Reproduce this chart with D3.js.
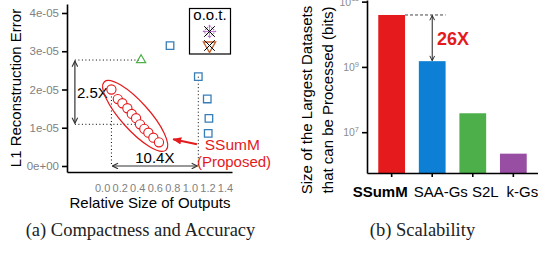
<!DOCTYPE html>
<meta charset="utf-8">
<style>

body {
  margin: 0;
  background: #fff;
}

svg {
  display: block;
  font-family: "Liberation Sans", Arial, sans-serif;
}

.axis path, .axis line {
  stroke: #000;
  stroke-width: 1.6;
}

.axis text {
  fill: #7f7f7f;
}

.caption {
  font-family: "Liberation Serif", serif;
  font-size: 18.5px;
  fill: #222;
  text-anchor: middle;
}

.title {
  font-size: 15px;
  fill: #000;
  text-anchor: middle;
}

</style>
<body>
<script src="https://d3js.org/d3.v7.min.js"></script>
<script>

/*
  Data - (a) compactness vs accuracy, error in units of 1e-05
*/

var ssummSize  = [0.106, 0.179, 0.231, 0.288, 0.338, 0.387, 0.432, 0.481, 0.527, 0.584, 0.648];
var ssummError = [2.00, 1.75, 1.64, 1.51, 1.36, 1.25, 1.09, 0.97, 0.87, 0.74, 0.62];

var s2lSize  = [0.444];
var s2lError = [2.77];

var saaSize  = [0.774, 1.096, 1.198, 1.217, 1.209];
var saaError = [3.145, 2.335, 1.752, 1.247, 0.855];

var errTicks      = [0, 1, 2, 3, 4];
var errTickLabels = ["0e+00", "1e-05", "2e-05", "3e-05", "4e-05"];
var sizeTicks     = [0, 0.2, 0.4, 0.6, 0.8, 1.0, 1.2, 1.4];

/*
  Data - (b) scalability
*/

var methods  = ["SSumM", "SAA-Gs", "S2L", "k-Gs"];
var maxBits  = [3.9e10, 1.5e9, 3.8e7, 2.2e6];
var bitTicks = [1e7, 1e9, 1e11];
var bitExp   = ["7", "9", "11"];

// labels under the bars sit a little off their ticks in the original
var labelShift = [-11.5, 8.5, 12.5, 9];

var red = "#e41a1c",
    barColors = ["#e41a1c", "#0d80d6", "#4daf4a", "#984ea3"];

var width = 538,
    height = 256;

var svg = d3.select("body").append("svg")
    .attr("width", width)
    .attr("height", height);

var defs = svg.append("defs");

function marker(id, color, size) {
  defs.append("marker")
      .attr("id", id)
      .attr("viewBox", "0 0 10 10")
      .attr("refX", 9)
      .attr("refY", 5)
      .attr("markerUnits", "userSpaceOnUse")
      .attr("markerWidth", size)
      .attr("markerHeight", size)
      .attr("orient", "auto-start-reverse")
    .append("path")
      .attr("d", "M1,1 L9,5 L1,9")
      .attr("fill", "none")
      .attr("stroke", color)
      .attr("stroke-width", 1.6);
}
marker("arrBlack", "#333", 7);
marker("arrThin", "#222", 6);

defs.append("marker")
    .attr("id", "arrRed")
    .attr("viewBox", "0 0 10 10")
    .attr("refX", 9)
    .attr("refY", 5)
    .attr("markerUnits", "userSpaceOnUse")
    .attr("markerWidth", 9)
    .attr("markerHeight", 9)
    .attr("orient", "auto")
  .append("path")
    .attr("d", "M0,1 L10,5 L0,9 Z")
    .attr("fill", red);

/*
  (a) scatter
*/

var x = d3.scaleLinear().domain([-0.4, 1.48]).range([67, 232]);
var y = d3.scaleLinear().domain([-0.157, 4.235]).range([172, 4]);

var A = svg.append("g");

A.append("g")
    .attr("class", "axis")
    .attr("transform", "translate(" + x.range()[0] + ",0)")
    .call(d3.axisLeft(y).tickValues(errTicks).tickSize(5).tickSizeOuter(0).tickPadding(3)
      .tickFormat(function(d, i) { return errTickLabels[i]; }))
    .call(function(g) { g.selectAll("text").style("font-size", "11.5px"); });

A.append("g")
    .attr("class", "axis")
    .attr("transform", "translate(0," + y.range()[0] + ")")
    .call(d3.axisBottom(x).tickValues(sizeTicks).tickSize(0).tickSizeOuter(0).tickPadding(12)
      .tickFormat(d3.format(".1f")))
    .call(function(g) { g.selectAll("text").style("font-size", "11px"); });

// axis titles
A.append("text")
    .attr("class", "title")
    .attr("transform", "translate(20.5,88) rotate(-90)")
    .text("L1 Reconstruction Error");

A.append("text")
    .attr("class", "title")
    .attr("x", 150)
    .attr("y", 208)
    .text("Relative Size of Outputs");

// guide lines
var dotted = A.append("g")
    .attr("fill", "none")
    .attr("stroke", "#000")
    .attr("stroke-width", 1)
    .attr("stroke-dasharray", "1,2.5");

var guideX = -0.31;

dotted.append("line")
    .attr("x1", x(guideX)).attr("x2", x(s2lSize[0]))
    .attr("y1", y(s2lError[0])).attr("y2", y(s2lError[0]));
dotted.append("line")
    .attr("x1", x(guideX)).attr("x2", x(ssummSize[6]))
    .attr("y1", y(ssummError[6])).attr("y2", y(ssummError[6]));
dotted.append("line")
    .attr("x1", x(ssummSize[0])).attr("x2", x(ssummSize[0]))
    .attr("y1", y(ssummError[0])).attr("y2", y(0));
dotted.append("line")
    .attr("x1", x(saaSize[1])).attr("x2", x(saaSize[1]))
    .attr("y1", y(saaError[1])).attr("y2", y(0));

// 2.5X arrow
A.append("line")
    .attr("x1", x(guideX)).attr("x2", x(guideX))
    .attr("y1", y(s2lError[0]) + 1).attr("y2", y(ssummError[6]) - 1)
    .attr("stroke", "#333")
    .attr("stroke-width", 1.2)
    .attr("marker-start", "url(#arrBlack)")
    .attr("marker-end", "url(#arrBlack)");

A.append("text")
    .attr("x", x(guideX) + 2)
    .attr("y", y(1.9) + 5)
    .style("font-size", "15px")
    .text("2.5X");

// 10.4X arrow
A.append("line")
    .attr("x1", x(ssummSize[0]) + 1).attr("x2", x(saaSize[1]) - 1)
    .attr("y1", y(0)).attr("y2", y(0))
    .attr("stroke", "#333")
    .attr("stroke-width", 1.2)
    .attr("marker-start", "url(#arrBlack)")
    .attr("marker-end", "url(#arrBlack)");

A.append("text")
    .attr("x", (x(ssummSize[0]) + x(saaSize[1])) / 2)
    .attr("y", y(0) - 3)
    .attr("text-anchor", "middle")
    .style("font-size", "15px")
    .text("10.4X");

// ellipse around SSumM points
var p0 = [x(ssummSize[0]), y(ssummError[0])],
    p1 = [x(ssummSize[ssummSize.length - 1]), y(ssummError[ssummError.length - 1])],
    angle = Math.atan2(p1[1] - p0[1], p1[0] - p0[0]) * 180 / Math.PI,
    half = Math.hypot(p1[0] - p0[0], p1[1] - p0[1]) / 2;

A.append("ellipse")
    .attr("transform", "translate(" + (p0[0] + p1[0]) / 2 + "," + (p0[1] + p1[1]) / 2 + ") rotate(" + angle + ")")
    .attr("rx", half + 10.5)
    .attr("ry", 14)
    .attr("fill", "none")
    .attr("stroke", red)
    .attr("stroke-width", 1.2);

// points
A.selectAll(".ssumm")
    .data(d3.zip(ssummSize, ssummError))
  .enter().append("circle")
    .attr("class", "ssumm")
    .attr("cx", function(d) { return x(d[0]); })
    .attr("cy", function(d) { return y(d[1]); })
    .attr("r", 4.6)
    .attr("fill", "#fff")
    .attr("stroke", red)
    .attr("stroke-width", 1.1);

A.selectAll(".s2l")
    .data(d3.zip(s2lSize, s2lError))
  .enter().append("path")
    .attr("class", "s2l")
    .attr("transform", function(d) { return "translate(" + x(d[0]) + "," + y(d[1]) + ")"; })
    .attr("d", d3.symbol(d3.symbolTriangle2, 60))
    .attr("fill", "none")
    .attr("stroke", "#4daf4a")
    .attr("stroke-width", 1.2);

A.selectAll(".saa")
    .data(d3.zip(saaSize, saaError))
  .enter().append("path")
    .attr("class", "saa")
    .attr("transform", function(d) { return "translate(" + x(d[0]) + "," + y(d[1]) + ")"; })
    .attr("d", d3.symbol(d3.symbolSquare2, 72))
    .attr("fill", "none")
    .attr("stroke", "#377eb8")
    .attr("stroke-width", 1.3);

// SSumM callout
A.append("line")
    .attr("x1", x(1.08)).attr("y1", y(0.57))
    .attr("x2", x(0.81)).attr("y2", y(0.70))
    .attr("stroke", red)
    .attr("stroke-width", 2)
    .attr("marker-end", "url(#arrRed)");

A.append("text")
    .attr("x", x(1.17))
    .attr("y", y(0.42))
    .attr("fill", red)
    .style("font-size", "15.5px")
    .text("SSumM");

A.append("text")
    .attr("x", x(1.08))
    .attr("y", y(-0.02))
    .attr("fill", red)
    .style("font-size", "15px")
    .text("(Proposed)");

// o.o.t. legend
var L = A.append("g").attr("transform", "translate(189.5,8.5)");

L.append("rect")
    .attr("width", 41)
    .attr("height", 45.5)
    .attr("fill", "#fff")
    .attr("stroke", "#000")
    .attr("stroke-width", 1.2);

L.append("text")
    .attr("x", 20.5)
    .attr("y", 11.5)
    .attr("text-anchor", "middle")
    .style("font-size", "15px")
    .text("o.o.t.");

var cross = d3.symbol(d3.symbolX, 75);

L.append("path")
    .attr("transform", "translate(20,23)")
    .attr("d", d3.symbol(d3.symbolDiamond2, 90))
    .attr("fill", "none")
    .attr("stroke", "#b060c8")
    .attr("stroke-width", 1.1)
    .attr("stroke-dasharray", "1.5,1");
L.append("path")
    .attr("transform", "translate(20,23)")
    .attr("d", d3.symbol(d3.symbolPlus, 60))
    .attr("fill", "none")
    .attr("stroke", "#b060c8")
    .attr("stroke-width", 0.8);
L.append("path")
    .attr("transform", "translate(20,23)")
    .attr("d", cross)
    .attr("fill", "none")
    .attr("stroke", "#000")
    .attr("stroke-width", 1);

L.append("path")
    .attr("transform", "translate(20,37) rotate(180)")
    .attr("d", d3.symbol(d3.symbolTriangle2, 105))
    .attr("fill", "none")
    .attr("stroke", "#c4622a")
    .attr("stroke-width", 1.4);
L.append("path")
    .attr("transform", "translate(20,37)")
    .attr("d", cross)
    .attr("fill", "none")
    .attr("stroke", "#000")
    .attr("stroke-width", 1);

svg.append("text")
    .attr("class", "caption")
    .attr("x", 140.5)
    .attr("y", 236)
    .text("(a) Compactness and Accuracy");

/*
  (b) bars on a log scale
*/

var xb = d3.scaleBand().domain(methods).range([367, 538]).paddingInner(0.34).paddingOuter(0.278);
var yb = d3.scaleLog().domain([Math.pow(10, 5.75), Math.pow(10, 11.05)]).range([173, 0]);

var B = svg.append("g");

B.selectAll(".bar")
    .data(methods)
  .enter().append("rect")
    .attr("class", "bar")
    .attr("x", function(d) { return xb(d); })
    .attr("width", xb.bandwidth())
    .attr("y", function(d, i) { return yb(maxBits[i]); })
    .attr("height", function(d, i) { return yb.range()[0] - yb(maxBits[i]); })
    .attr("fill", function(d, i) { return barColors[i]; });

B.append("g")
    .attr("class", "axis")
    .attr("transform", "translate(" + xb.range()[0] + ",0)")
    .call(d3.axisLeft(yb).tickValues(bitTicks).tickSize(5).tickSizeOuter(0).tickPadding(3))
    .call(function(g) {
      g.selectAll("text")
          .style("font-size", "10.5px")
          .style("fill", "#8c8c8c")
          .each(function(d, i) {
            var t = d3.select(this).text(null);
            t.append("tspan").text("10");
            t.append("tspan").attr("dy", "-0.55em").style("font-size", "7.5px").text(bitExp[i]);
          });
    });

B.append("g")
    .attr("class", "axis")
    .attr("transform", "translate(0," + yb.range()[0] + ")")
    .call(d3.axisBottom(xb).tickSize(4).tickSizeOuter(0).tickPadding(9))
    .call(function(g) {
      g.selectAll("text")
          .attr("dx", function(d, i) { return labelShift[i]; })
          .style("font-size", "15px")
          .style("fill", "#000")
          .style("font-weight", function(d) { return d === "SSumM" ? "bold" : null; });
    });

B.append("text")
    .attr("class", "title")
    .attr("transform", "translate(311.5,100) rotate(-90)")
    .text("Size of the Largest Datasets");

B.append("text")
    .attr("class", "title")
    .attr("transform", "translate(332.5,100) rotate(-90)")
    .text("that can be Processed (bits)");

// 26X gap
B.append("line")
    .attr("x1", xb(methods[0]) + xb.bandwidth())
    .attr("x2", xb(methods[1]) + xb.bandwidth())
    .attr("y1", yb(maxBits[0])).attr("y2", yb(maxBits[0]))
    .attr("stroke", "#444")
    .attr("stroke-width", 1)
    .attr("stroke-dasharray", "3,2");

B.append("line")
    .attr("x1", xb(methods[1]) + xb.bandwidth() / 2)
    .attr("x2", xb(methods[1]) + xb.bandwidth() / 2)
    .attr("y1", yb(maxBits[0]) + 0.5)
    .attr("y2", yb(maxBits[1]) - 0.5)
    .attr("stroke", "#222")
    .attr("stroke-width", 1)
    .attr("marker-start", "url(#arrThin)")
    .attr("marker-end", "url(#arrThin)");

B.append("text")
    .attr("x", 453)
    .attr("y", 45)
    .attr("text-anchor", "middle")
    .attr("fill", red)
    .style("font-size", "18px")
    .style("font-weight", "bold")
    .text("26X");

svg.append("text")
    .attr("class", "caption")
    .attr("x", 422.5)
    .attr("y", 236)
    .text("(b) Scalability");

</script>
